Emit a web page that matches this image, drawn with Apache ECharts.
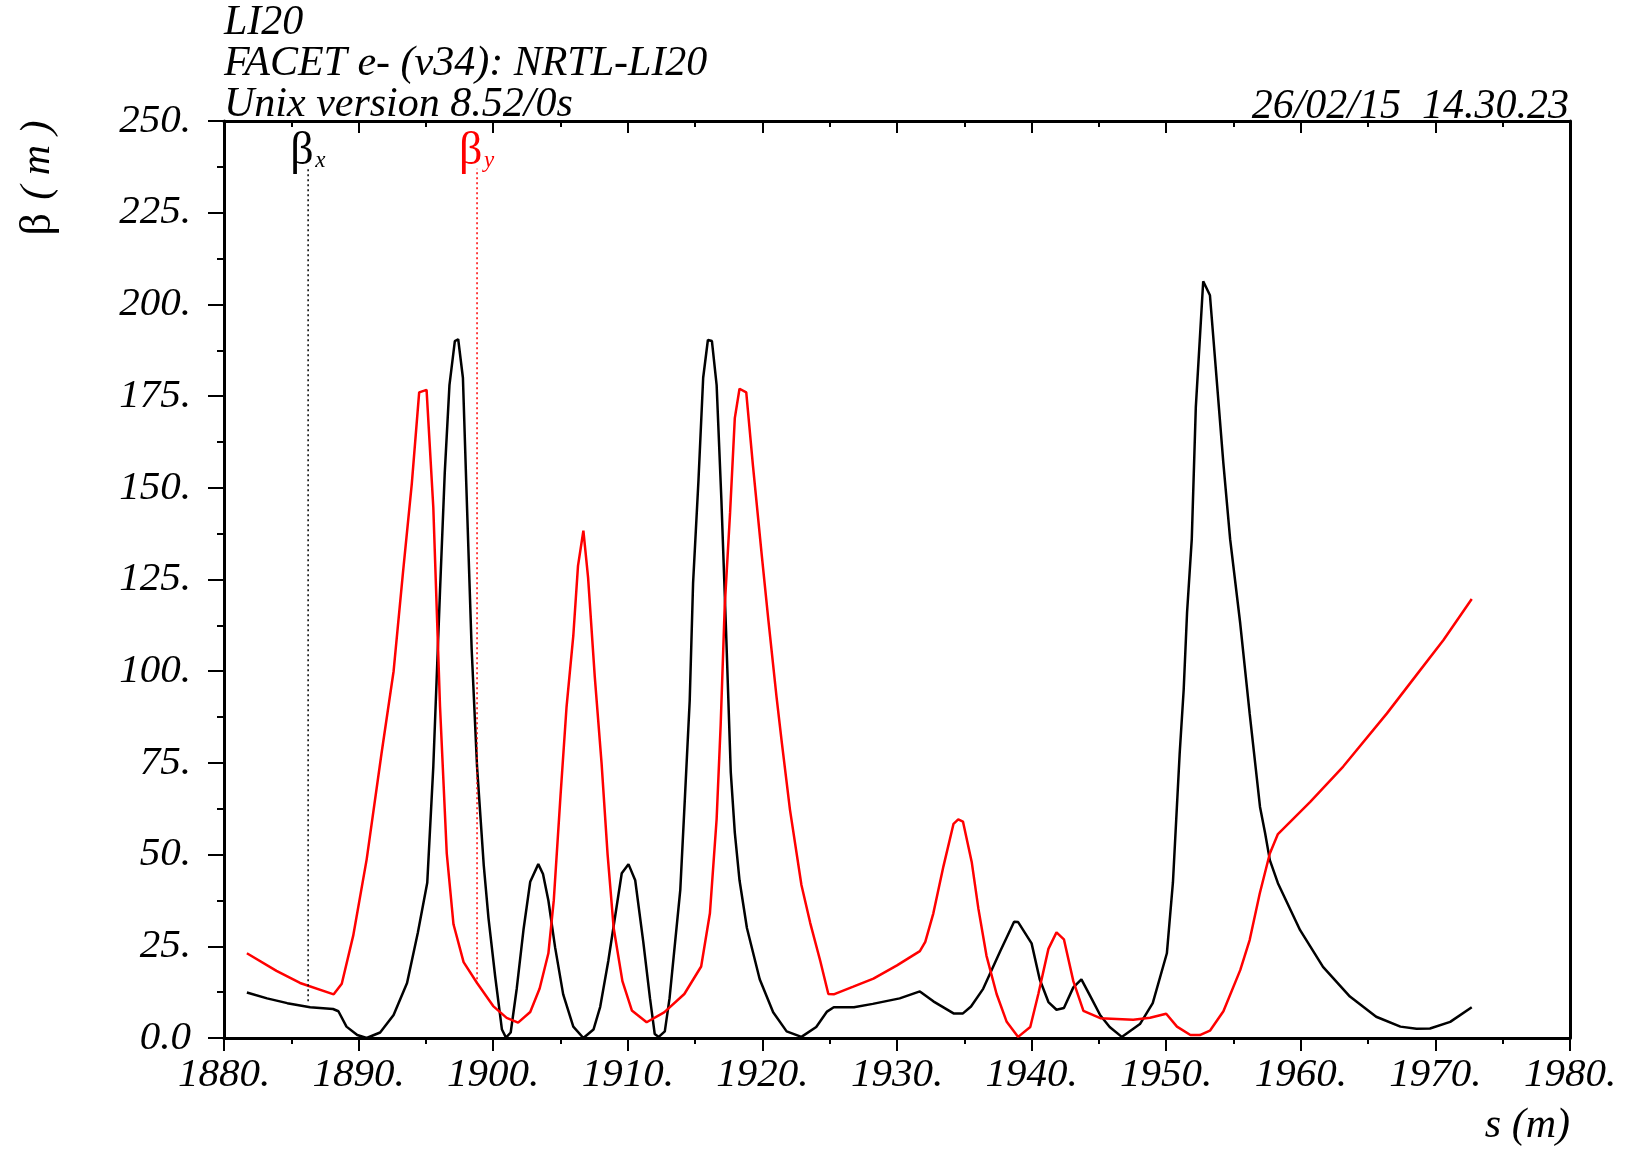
<!DOCTYPE html>
<html>
<head>
<meta charset="utf-8">
<script src="https://cdn.jsdelivr.net/npm/echarts@6/dist/echarts.min.js"></script>
<style>
  html, body { margin: 0; padding: 0; background: #fff; }
  #betaChart { width: 1627px; height: 1153px; }
</style>
</head>
<body>
<div id="betaChart"></div>
<script>
  // beta_x (black) : s positions and values
  var sBetaX = [1881.7, 1883.2, 1884.7, 1886.4, 1888.1, 1888.5, 1889.1, 1889.9, 1890.6, 1891.6,
    1892.6, 1893.6, 1894.4, 1895.1, 1895.55, 1896.05, 1896.4, 1896.75, 1897.15, 1897.4,
    1897.75, 1898.0, 1898.4, 1898.8, 1899.3, 1899.65, 1900.15, 1900.65, 1900.95, 1901.3,
    1901.75, 1902.25, 1902.75, 1903.35, 1903.7, 1904.1, 1904.6, 1905.2, 1905.95, 1906.7,
    1907.45, 1907.95, 1908.55, 1909.55, 1910.05, 1910.55, 1911.15, 1911.65, 1912.0, 1912.3,
    1912.75, 1913.1, 1913.9, 1914.25, 1914.6, 1914.85, 1915.25, 1915.6, 1915.95, 1916.25,
    1916.6, 1916.95, 1917.3, 1917.65, 1917.95, 1918.3, 1918.85, 1919.8, 1920.8, 1921.8,
    1922.9, 1924.0, 1924.8, 1925.3, 1926.8, 1928.2, 1930.2, 1931.7, 1932.7, 1934.2,
    1934.9, 1935.5, 1936.4, 1937.65, 1938.7, 1939.0, 1940.0, 1940.6, 1941.25, 1941.85,
    1942.4, 1943.1, 1943.7, 1944.35, 1945.1, 1945.8, 1946.7, 1948.05, 1949.0, 1950.05,
    1950.5, 1951.0, 1951.3, 1951.55, 1951.9, 1952.2, 1952.75, 1953.25, 1954.24, 1954.75,
    1955.5, 1956.2, 1956.97, 1957.35, 1957.7, 1958.3, 1959.95, 1961.65, 1963.65, 1965.6,
    1967.4, 1968.6, 1969.6, 1971.1, 1972.7];
  var betaX = [12.4, 10.8, 9.5, 8.4, 7.9, 7.3, 3.1, 0.8, 0.0, 1.5,
    6.3, 15, 28.7, 42.3, 74, 122, 154, 178, 190, 190.5,
    180, 151, 106, 74, 47, 32.7, 16.7, 2.3, 0.1, 1.5,
    13.5, 29.5, 42.6, 47.4, 44.7, 37.5, 24.7, 11.9, 3.1, 0.0,
    2.3, 8.5, 21, 44.9, 47.4, 43, 26.2, 10.8, 1.1, 0.3,
    1.8, 10.8, 40.4, 66, 92, 124, 152, 180, 190.3, 190,
    178, 147, 111, 72.5, 56, 43, 30, 16, 7, 1.8,
    0.3, 3, 7.2, 8.4, 8.4, 9.3, 10.8, 12.7, 10, 6.7,
    6.7, 8.6, 13.4, 23.5, 31.7, 31.6, 25.8, 16, 9.8, 7.7,
    8.2, 13.8, 16, 11.5, 6.2, 3, 0.3, 3.8, 9.5, 23.1,
    42.4, 77.5, 95, 116, 136, 172, 206.3, 202.5, 157, 136,
    113, 88.5, 63, 55.8, 48.5, 42.2, 29.4, 19.4, 11.3, 5.8,
    3.1, 2.5, 2.6, 4.4, 8.4];

  // beta_y (red)
  var sBetaY = [1881.7, 1883.9, 1885.65, 1888.15, 1888.75, 1889.6, 1890.6, 1891.7, 1892.6, 1893.3,
    1893.95, 1894.5, 1895.05, 1895.55, 1896.05, 1896.55, 1897.05, 1897.8, 1898.8, 1900.0,
    1901.0, 1901.85, 1902.75, 1903.45, 1904.1, 1904.5, 1905.0, 1905.45, 1905.95, 1906.3,
    1906.7, 1907.05, 1907.55, 1908.05, 1908.5, 1908.95, 1909.6, 1910.3, 1911.4, 1912.7,
    1914.2, 1915.45, 1916.1, 1916.6, 1916.9, 1917.2, 1917.6, 1917.95, 1918.3, 1918.8,
    1919.3, 1919.95, 1920.45, 1921.05, 1921.45, 1922.05, 1922.9, 1923.55, 1924.3, 1924.9,
    1925.3, 1926.75, 1928.25, 1930.0, 1931.7, 1932.1, 1932.7, 1933.45, 1934.2, 1934.55,
    1934.9, 1935.55, 1936.05, 1936.65, 1937.4, 1938.15, 1939.0, 1939.9, 1940.5, 1941.25,
    1941.85, 1942.4, 1943.1, 1943.85, 1945.1, 1947.55, 1948.8, 1950.0, 1950.8, 1951.8,
    1952.5, 1953.25, 1954.25, 1955.5, 1956.2, 1956.95, 1957.7, 1958.3, 1960.7, 1963.15,
    1966.4, 1968.6, 1970.6, 1972.7];
  var betaY = [23.1, 18.3, 15, 11.9, 14.8, 27.9, 48.7, 77.5, 100, 127,
    151, 176, 176.7, 144.7, 90.3, 50.3, 31, 20.7, 15, 8.7,
    5.5, 4.2, 7.1, 13.5, 23.1, 37.5, 66, 90.3, 109.6, 128.7,
    138.3, 125.5, 98.3, 75, 50, 30, 15.5, 7.5, 4.3, 7,
    12, 19.5, 34, 59.7, 85.4, 117.6, 143.3, 169, 177, 176,
    156, 131.7, 113.7, 93, 80.3, 62.2, 41.7, 31.4, 21, 12,
    11.9, 14, 16.2, 19.8, 23.7, 26.2, 34, 46.8, 58.4, 59.6,
    59, 48, 35.2, 22.4, 12, 4.4, 0.3, 3, 12, 24.3,
    28.8, 26.9, 15.5, 7.4, 5.4, 5.0, 5.5, 6.6, 3.1, 0.8,
    0.8, 2, 7.3, 18.5, 26.7, 39.4, 50.3, 55.6, 64.4, 74,
    88.5, 99, 108.5, 119.7];

  // tick labels
  var sTickLabels = ['1880.', '1890.', '1900.', '1910.', '1920.', '1930.', '1940.', '1950.', '1960.', '1970.', '1980.'];
  var betaTickLabels = ['0.0', '25.', '50.', '75.', '100.', '125.', '150.', '175.', '200.', '225.', '250.'];

  // legend markers (dotted lines) : s position, bottom end, top end
  var legendS = [1886.25, 1898.8];
  var legendLow = [10, 16];
  var legendHigh = [237, 237];

  var titleLines = ['LI20', 'FACET e- (v34): NRTL-LI20', 'Unix version 8.52/0s'];
  var dateText = '26/02/15  14.30.23';

  var serif = '"Liberation Serif", "Times New Roman", serif';

  function pairs(xs, ys) {
    var out = [];
    for (var i = 0; i < xs.length; i++) out.push([xs[i], ys[i]]);
    return out;
  }

  var myChart = echarts.init(document.getElementById('betaChart'));

  var option = {
    animation: false,
    backgroundColor: '#fff',
    grid: { left: 224, right: 57, top: 121, bottom: 115 },
    xAxis: [{
      type: 'value', min: 1880, max: 1980, interval: 10, position: 'bottom',
      axisLine: { onZero: false, lineStyle: { color: '#000', width: 3 } },
      axisTick: { inside: false, length: 13, lineStyle: { color: '#000', width: 2 } },
      minorTick: { show: true, splitNumber: 2, length: 6, lineStyle: { color: '#000', width: 2 } },
      splitLine: { show: false },
      axisLabel: {
        margin: 17, color: '#000', fontFamily: serif, fontStyle: 'italic', fontSize: 41,
        formatter: function (v) { return sTickLabels[Math.round((v - 1880) / 10)]; }
      }
    }, {
      type: 'value', min: 1880, max: 1980, interval: 10, position: 'top',
      axisLine: { onZero: false, lineStyle: { color: '#000', width: 3 } },
      axisTick: { inside: true, length: 12, lineStyle: { color: '#000', width: 2 } },
      minorTick: { show: true, splitNumber: 2, length: 6, lineStyle: { color: '#000', width: 2 } },
      splitLine: { show: false },
      axisLabel: { show: false }
    }],
    yAxis: [{
      type: 'value', min: 0, max: 250, interval: 25, position: 'left',
      axisLine: { onZero: false, lineStyle: { color: '#000', width: 3 } },
      axisTick: { inside: false, length: 16, lineStyle: { color: '#000', width: 2 } },
      minorTick: { show: true, splitNumber: 2, length: 7, lineStyle: { color: '#000', width: 2 } },
      splitLine: { show: false },
      axisLabel: {
        margin: 33, color: '#000', fontFamily: serif, fontStyle: 'italic', fontSize: 41,
        formatter: function (v) { return betaTickLabels[Math.round(v / 25)]; }
      }
    }, {
      type: 'value', min: 0, max: 250, interval: 25, position: 'right',
      axisLine: { show: true, onZero: false, lineStyle: { color: '#000', width: 3 } },
      axisTick: { show: false },
      splitLine: { show: false },
      axisLabel: { show: false }
    }],
    series: [{
      name: 'betaX', type: 'line', data: pairs(sBetaX, betaX),
      showSymbol: false, lineStyle: { color: '#000', width: 2.5 }, itemStyle: { color: '#000' }
    }, {
      name: 'betaY', type: 'line', data: pairs(sBetaY, betaY),
      showSymbol: false, lineStyle: { color: '#ff0000', width: 2.5 }, itemStyle: { color: '#ff0000' }
    }, {
      name: 'legX', type: 'line', data: [[legendS[0], legendLow[0]], [legendS[0], legendHigh[0]]],
      showSymbol: false, lineStyle: { color: '#000', width: 1.5, type: [2, 3] }
    }, {
      name: 'legY', type: 'line', data: [[legendS[1], legendLow[1]], [legendS[1], legendHigh[1]]],
      showSymbol: false, lineStyle: { color: '#ff0000', width: 1.5, type: [2, 3] }
    }]
  };

  myChart.setOption(option);

  // texts : titles, date, axis names and legend labels
  var graphics = [];
  var baselines = [37, 78, 119];
  titleLines.forEach(function (t, i) {
    graphics.push({
      type: 'text', x: 224, y: baselines[i] - 14,
      style: { text: t, font: 'italic 42px ' + serif, fill: '#000', textAlign: 'left', textVerticalAlign: 'middle' }
    });
  });
  graphics.push({
    type: 'text', x: 1569, y: 121 - 14,
    style: { text: dateText, font: 'italic 42px ' + serif, fill: '#000', textAlign: 'right', textVerticalAlign: 'middle' }
  });
  graphics.push({
    type: 'text', x: 1570, y: 1140 - 14,
    style: { text: 's (m)', font: 'italic 42px ' + serif, fill: '#000', textAlign: 'right', textVerticalAlign: 'middle' }
  });
  graphics.push({
    type: 'text', x: 38, y: 178, rotation: Math.PI / 2,
    style: {
      text: '{b|β}    {m|( m )}', textAlign: 'center', textVerticalAlign: 'middle',
      rich: {
        b: { fontFamily: serif, fontSize: 44, fill: '#000' },
        m: { fontFamily: serif, fontStyle: 'italic', fontSize: 42, fill: '#000' }
      }
    }
  });

  var legColors = ['#000', '#ff0000'];
  var legSubs = ['x', 'y'];
  legendS.forEach(function (s, i) {
    var p = myChart.convertToPixel({ xAxisIndex: 0, yAxisIndex: 0 }, [s, legendHigh[i]]);
    graphics.push({
      type: 'text', x: p[0] - 18, y: 152,
      style: { text: 'β', font: '46px ' + serif, fill: legColors[i], textAlign: 'left', textVerticalAlign: 'middle' }
    });
    graphics.push({
      type: 'text', x: p[0] + 7, y: 161,
      style: { text: legSubs[i], font: 'italic 23px ' + serif, fill: legColors[i], textAlign: 'left', textVerticalAlign: 'middle' }
    });
  });

  myChart.setOption({ graphic: graphics });
</script>
</body>
</html>
